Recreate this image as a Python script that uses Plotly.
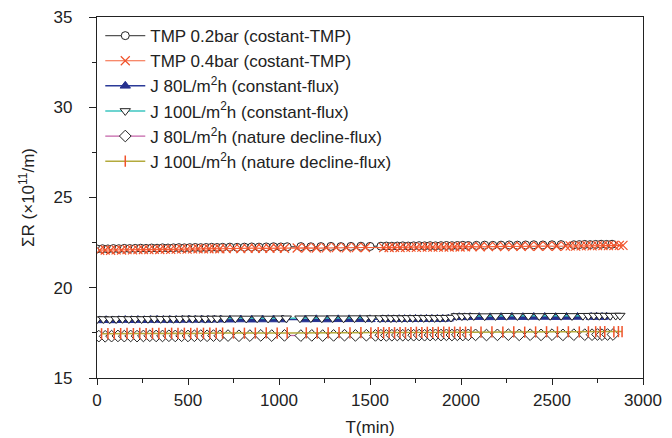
import plotly.graph_objects as go

# ---- data ----
tmp02_x = [0, 30, 60, 90, 120, 150, 180, 210, 240, 270,
           300, 330, 360, 390, 420, 450, 480, 510, 540, 570,
           600, 630, 660, 690, 730, 770, 810, 850, 890, 930,
           970, 1010, 1045, 1120, 1175, 1230, 1285, 1340, 1395, 1450,
           1500, 1560, 1590, 1620, 1650, 1680, 1710, 1740, 1770, 1800,
           1830, 1860, 1890, 1920, 1950, 1980, 2010, 2040, 2085, 2130,
           2175, 2220, 2265, 2310, 2355, 2400, 2450, 2500, 2550, 2620,
           2650, 2680, 2710, 2740, 2770, 2800, 2830]
tmp02_y = [22.15, 22.16, 22.15, 22.17, 22.16, 22.18, 22.17, 22.18, 22.19, 22.18,
           22.20, 22.19, 22.21, 22.20, 22.21, 22.22, 22.21, 22.22, 22.23, 22.22,
           22.23, 22.24, 22.23, 22.24, 22.25, 22.24, 22.25, 22.26, 22.25, 22.26,
           22.27, 22.26, 22.27, 22.28, 22.27, 22.28, 22.29, 22.28, 22.29, 22.30,
           22.29, 22.30, 22.31, 22.30, 22.31, 22.32, 22.31, 22.32, 22.33, 22.32,
           22.33, 22.32, 22.33, 22.34, 22.33, 22.34, 22.35, 22.34, 22.35, 22.36,
           22.35, 22.36, 22.37, 22.36, 22.37, 22.38, 22.37, 22.38, 22.39, 22.38,
           22.39, 22.40, 22.39, 22.40, 22.41, 22.40, 22.41]

tmp04_x = [15, 45, 75, 105, 135, 165, 195, 225, 255, 285,
           315, 345, 375, 405, 435, 465, 495, 525, 555, 585,
           615, 645, 675, 710, 750, 790, 830, 870, 910, 950,
           990, 1030, 1100, 1150, 1205, 1260, 1315, 1370, 1425, 1475,
           1575, 1605, 1635, 1665, 1695, 1725, 1755, 1785, 1815, 1845,
           1875, 1905, 1935, 1965, 1995, 2025, 2060, 2105, 2150, 2195,
           2240, 2285, 2330, 2375, 2425, 2475, 2525, 2575, 2600, 2630,
           2660, 2690, 2720, 2750, 2780, 2810, 2840, 2870, 2890]
tmp04_y = [22.08, 22.09, 22.08, 22.10, 22.09, 22.11, 22.10, 22.11, 22.12, 22.11,
           22.13, 22.12, 22.14, 22.13, 22.14, 22.15, 22.14, 22.15, 22.16, 22.15,
           22.16, 22.17, 22.16, 22.17, 22.18, 22.17, 22.18, 22.19, 22.18, 22.19,
           22.20, 22.19, 22.20, 22.21, 22.20, 22.21, 22.22, 22.21, 22.22, 22.23,
           22.22, 22.23, 22.24, 22.23, 22.24, 22.25, 22.24, 22.25, 22.26, 22.25,
           22.26, 22.25, 22.26, 22.27, 22.26, 22.27, 22.28, 22.27, 22.28, 22.29,
           22.28, 22.29, 22.30, 22.29, 22.30, 22.31, 22.30, 22.31, 22.32, 22.31,
           22.32, 22.33, 22.32, 22.33, 22.34, 22.33, 22.34, 22.35, 22.35]

j80c_x = [15, 50, 85, 120, 155, 190, 225, 260, 295, 330,
          365, 400, 435, 470, 505, 540, 575, 610, 645, 680,
          730, 790, 850, 910, 970, 1020,
          1145, 1205, 1265, 1325, 1385, 1445, 1500,
          1570, 1600, 1630, 1660, 1690, 1720, 1750, 1780, 1810, 1840,
          1870, 1900, 1930, 1960, 1990, 2020, 2050,
          2100, 2160, 2220, 2280, 2340, 2400, 2460, 2520, 2580, 2640,
          2715, 2745, 2775, 2800]
j80c_y = [18.19, 18.20, 18.19, 18.20, 18.21, 18.20, 18.21, 18.20, 18.21, 18.22,
          18.21, 18.22, 18.21, 18.22, 18.23, 18.22, 18.23, 18.22, 18.23, 18.23,
          18.23, 18.24, 18.23, 18.24, 18.24, 18.24,
          18.24, 18.25, 18.24, 18.25, 18.25, 18.25, 18.25,
          18.25, 18.26, 18.25, 18.26, 18.26, 18.26, 18.27, 18.26, 18.27, 18.27,
          18.27, 18.27, 18.28, 18.36, 18.37, 18.36, 18.37,
          18.37, 18.36, 18.37, 18.38, 18.37, 18.38, 18.38, 18.37, 18.38, 18.38,
          18.38, 18.39, 18.38, 18.39]

j100c_x = [0, 35, 70, 105, 140, 175, 210, 245, 280, 315,
           350, 385, 420, 455, 490, 525, 560, 595, 630, 660,
           700, 760, 820, 880, 940, 1000, 1040,
           1115, 1175, 1235, 1295, 1355, 1415, 1475, 1510,
           1555, 1585, 1615, 1645, 1675, 1705, 1735, 1765, 1795, 1825,
           1855, 1885, 1915, 1945, 1975, 2005, 2035,
           2070, 2130, 2190, 2250, 2310, 2370, 2430, 2490, 2550, 2610, 2670,
           2700, 2730, 2760, 2790, 2820, 2850, 2873]
j100c_y = [18.26, 18.27, 18.26, 18.27, 18.28, 18.27, 18.28, 18.27, 18.28, 18.29,
           18.28, 18.29, 18.28, 18.29, 18.30, 18.29, 18.30, 18.29, 18.30, 18.30,
           18.30, 18.31, 18.30, 18.31, 18.30, 18.31, 18.31,
           18.31, 18.32, 18.31, 18.32, 18.31, 18.32, 18.32, 18.32,
           18.32, 18.33, 18.32, 18.33, 18.32, 18.33, 18.33, 18.34, 18.33, 18.34,
           18.33, 18.34, 18.34, 18.35, 18.44, 18.43, 18.44,
           18.44, 18.43, 18.44, 18.45, 18.44, 18.45, 18.44, 18.45, 18.45, 18.44, 18.45,
           18.45, 18.46, 18.45, 18.46, 18.45, 18.46, 18.46]

j80n_x = [10, 45, 80, 115, 150, 185, 220, 255, 290, 325,
          360, 395, 430, 465, 500, 535, 570, 605, 640, 675,
          720, 780, 840, 900, 960, 1030,
          1120, 1180, 1240, 1300, 1360, 1420, 1480, 1530,
          1560, 1590, 1620, 1650, 1680, 1710, 1740, 1770, 1800, 1830,
          1860, 1890, 1920, 1950, 1980, 2010, 2040,
          2080, 2140, 2200, 2260, 2320, 2380, 2440, 2500, 2560, 2620, 2680,
          2720, 2750, 2775, 2805, 2835]
j80n_y = [17.32, 17.31, 17.32, 17.33, 17.32, 17.33, 17.32, 17.33, 17.34, 17.33,
          17.33, 17.34, 17.33, 17.34, 17.33, 17.34, 17.35, 17.34, 17.35, 17.34,
          17.35, 17.34, 17.35, 17.36, 17.35, 17.36,
          17.35, 17.36, 17.35, 17.36, 17.37, 17.36, 17.37, 17.36,
          17.37, 17.36, 17.37, 17.38, 17.37, 17.38, 17.37, 17.38, 17.37, 17.38,
          17.39, 17.38, 17.39, 17.38, 17.39, 17.38, 17.39,
          17.39, 17.38, 17.39, 17.40, 17.39, 17.40, 17.39, 17.40, 17.39, 17.40, 17.40,
          17.40, 17.41, 17.40, 17.41, 17.41]

j100n_x = [25, 60, 95, 130, 165, 200, 235, 270, 305, 340,
           375, 410, 445, 480, 515, 550, 585, 620, 655, 690,
           750, 810, 870, 930, 990, 1045,
           1150, 1210, 1270, 1330, 1390, 1450, 1505, 1545,
           1575, 1605, 1635, 1665, 1695, 1725, 1755, 1785, 1815, 1845,
           1875, 1905, 1935, 1965, 1995, 2025, 2055,
           2110, 2170, 2230, 2290, 2350, 2410, 2470, 2530, 2590, 2650, 2700,
           2740, 2765, 2790, 2840, 2865, 2885]
j100n_y = [17.45, 17.46, 17.45, 17.46, 17.47, 17.46, 17.47, 17.46, 17.47, 17.47,
           17.47, 17.48, 17.47, 17.48, 17.47, 17.48, 17.48, 17.49, 17.48, 17.49,
           17.49, 17.48, 17.49, 17.50, 17.49, 17.50,
           17.50, 17.49, 17.50, 17.51, 17.50, 17.51, 17.50, 17.51,
           17.51, 17.52, 17.51, 17.52, 17.51, 17.52, 17.53, 17.52, 17.53, 17.52,
           17.53, 17.54, 17.53, 17.54, 17.53, 17.54, 17.54,
           17.54, 17.55, 17.54, 17.55, 17.54, 17.55, 17.56, 17.55, 17.56, 17.55, 17.56,
           17.56, 17.56, 17.57, 17.56, 17.57, 17.57]

names = ["TMP 0.2bar (costant-TMP)",
         "TMP 0.4bar (costant-TMP)",
         "J 80L/m<sup>2</sup>h (constant-flux)",
         "J 100L/m<sup>2</sup>h (constant-flux)",
         "J 80L/m<sup>2</sup>h (nature decline-flux)",
         "J 100L/m<sup>2</sup>h (nature decline-flux)"]

x_ticks = [0, 500, 1000, 1500, 2000, 2500, 3000]
y_ticks = [15, 20, 25, 30, 35]

fig = go.Figure()

fig.add_trace(go.Scatter(
    x=tmp02_x, y=tmp02_y, name=names[0], mode="lines+markers",
    line=dict(color="#555555", width=1.2),
    marker=dict(symbol="circle", size=8, color="white",
                line=dict(color="#222222", width=1))))
fig.add_trace(go.Scatter(
    x=tmp04_x, y=tmp04_y, name=names[1], mode="lines+markers",
    line=dict(color="#f5623a", width=1.2),
    marker=dict(symbol="x-thin-open", size=9, color="#f0522a",
                line=dict(color="#f0522a", width=1.2))))
fig.add_trace(go.Scatter(
    x=j80c_x, y=j80c_y, name=names[2], mode="lines+markers",
    line=dict(color="#2b3a98", width=1.5),
    marker=dict(symbol="triangle-up", size=9, color="#26318f",
                line=dict(color="#26318f", width=1))))
fig.add_trace(go.Scatter(
    x=j100c_x, y=j100c_y, name=names[3], mode="lines+markers",
    line=dict(color="#3cc6c0", width=1.5),
    marker=dict(symbol="triangle-down", size=9, color="white",
                line=dict(color="#222222", width=1))))
fig.add_trace(go.Scatter(
    x=j80n_x, y=j80n_y, name=names[4], mode="lines+markers",
    line=dict(color="#c463a8", width=1.2),
    marker=dict(symbol="diamond", size=9, color="white",
                line=dict(color="#222222", width=1))))
fig.add_trace(go.Scatter(
    x=j100n_x, y=j100n_y, name=names[5], mode="lines+markers",
    line=dict(color="#b3aa3c", width=1.5),
    marker=dict(symbol="line-ns-open", size=8, color="#f0522a",
                line=dict(color="#f0522a", width=1.5))))

font_family = "Liberation Sans, Arial, sans-serif"

fig.update_layout(
    width=672, height=438,
    margin=dict(l=89, r=37, t=9, b=68),
    paper_bgcolor="white", plot_bgcolor="white",
    font=dict(family=font_family, size=17, color="#222222"),
    showlegend=True,
    legend=dict(x=0.006, y=0.997, xanchor="left", yanchor="top",
                bgcolor="rgba(0,0,0,0)", font=dict(size=17, color="#222222"),
                tracegroupgap=0, itemwidth=40),
    xaxis=dict(range=[0, 3000], tickvals=x_ticks, ticktext=[str(v) for v in x_ticks],
               automargin=False, ticklabeloverflow="allow",
               ticks="outside", ticklen=6, tickwidth=1.2, tickcolor="#222222",
               showline=True, linecolor="#222222", linewidth=1.2, mirror=True,
               showgrid=False, zeroline=False, ticklabelstandoff=0,
               minor=dict(dtick=250, ticks="outside", ticklen=4, tickcolor="#222222", showgrid=False),
               title=dict(text="T(min)", font=dict(size=17), standoff=12),
               tickfont=dict(size=17)),
    yaxis=dict(range=[15, 35], tickvals=y_ticks, ticktext=[str(v) for v in y_ticks],
               automargin=False, ticklabeloverflow="allow",
               ticks="outside", ticklen=7, tickwidth=1.2, tickcolor="#222222",
               showline=True, linecolor="#222222", linewidth=1.2, mirror=True,
               showgrid=False, zeroline=False, ticklabelstandoff=13,
               minor=dict(dtick=2.5, ticks="outside", ticklen=4, tickcolor="#222222", showgrid=False),
               title=dict(text="ΣR (×10<sup>11</sup>/m)", font=dict(size=17), standoff=14),
               tickfont=dict(size=17)),
)

fig.write_html("out.html")
